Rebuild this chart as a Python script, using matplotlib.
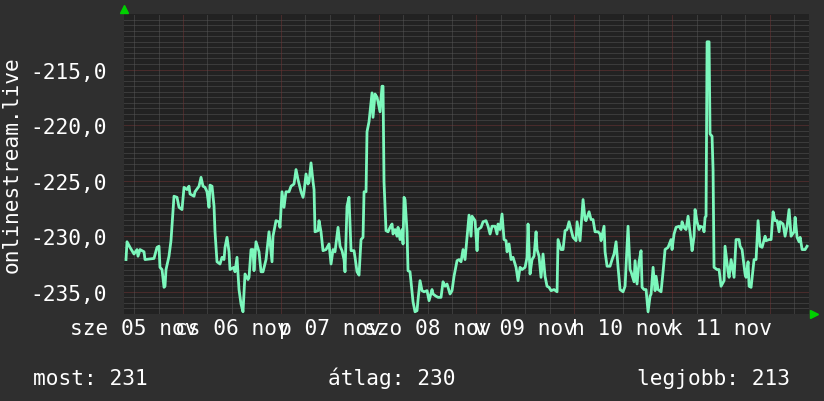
import matplotlib
matplotlib.use("Agg")
import matplotlib.pyplot as plt

# ------------------------------------
# Data (hours since 05 nov 00:00, value)
# ------------------------------------
hours = [
    10.01, 10.26, 10.99, 11.97, 12.71, 12.96, 13.45, 14.43, 14.67, 16.88,
    17.62, 18.11, 18.35, 18.85, 19.34, 19.58, 19.83, 20.56, 21.05, 21.79,
    22.53, 23.02, 23.75, 24.25, 24.98, 25.47, 25.72, 26.70, 26.94, 27.93,
    28.42, 28.91, 29.40, 29.89, 30.38, 30.62, 31.12, 31.61, 31.85, 32.34,
    33.08, 33.57, 34.06, 34.31, 34.80, 35.29, 35.53, 36.51, 36.76, 37.25,
    37.74, 38.23, 38.72, 39.21, 39.95, 40.20, 40.69, 41.18, 41.42, 41.91,
    42.65, 43.14, 43.63, 44.37, 45.10, 45.84, 46.08, 46.82, 47.56, 47.80,
    48.29, 48.78, 49.27, 50.01, 50.50, 51.24, 51.73, 52.22, 52.96, 53.45,
    53.69, 54.18, 54.67, 54.92, 55.41, 55.90, 56.15, 56.39, 57.13, 57.37,
    57.86, 58.35, 59.09, 59.83, 60.32, 60.81, 61.30, 62.04, 62.53, 63.02,
    63.51, 63.75, 64.24, 64.73, 65.23, 65.96, 66.21, 66.70, 67.19, 67.68,
    68.17, 68.42, 68.91, 69.15, 69.64, 70.38, 70.62, 71.12, 71.61, 71.85,
    72.34, 72.83, 73.08, 73.32, 73.81, 74.31, 74.80, 75.29, 75.53, 76.02,
    76.51, 76.76, 77.25, 77.74, 77.99, 78.23, 78.48, 78.97, 79.21, 79.70,
    80.20, 80.44, 80.93, 81.42, 81.67, 82.16, 82.65, 83.14, 83.88, 84.37,
    85.10, 85.35, 86.08, 86.58, 87.31, 87.80, 88.29, 88.78, 89.52, 90.01,
    90.50, 90.99, 91.24, 91.73, 92.22, 92.71, 93.20, 93.69, 94.18, 94.67,
    94.92, 95.66, 96.15, 96.39, 97.13, 97.62, 98.35, 98.85, 99.34, 99.83,
    100.56, 101.05, 101.30, 101.79, 102.28, 102.77, 103.26, 103.51, 104.00, 104.49,
    104.98, 105.72, 106.21, 106.70, 107.19, 107.93, 108.42, 108.66, 109.15, 109.64,
    110.13, 110.63, 110.87, 111.36, 111.85, 112.34, 112.83, 113.32, 113.82, 114.31,
    115.04, 115.78, 116.02, 116.76, 117.25, 117.74, 118.23, 118.72, 119.21, 119.70,
    120.44, 120.69, 121.42, 122.16, 122.65, 122.89, 123.63, 124.12, 124.61, 125.10,
    125.84, 126.33, 126.58, 127.31, 127.56, 128.05, 128.78, 129.28, 129.77, 130.26,
    130.75, 131.24, 131.98, 132.47, 133.20, 133.69, 133.94, 134.67, 134.92, 135.41,
    135.90, 136.39, 136.64, 137.13, 137.62, 138.11, 138.60, 138.85, 139.34, 139.83,
    140.07, 140.56, 141.30, 141.79, 142.28, 143.02, 143.75, 144.00, 144.49, 144.98,
    145.72, 146.21, 146.45, 146.94, 147.43, 147.93, 148.66, 148.91, 149.40, 149.64,
    150.13, 150.63, 150.87, 151.61, 151.85, 152.10, 152.34, 152.59, 153.08, 153.32,
    153.81, 154.06, 154.30, 155.04, 155.53, 156.02, 156.76, 157.00, 157.74, 157.99,
    158.48, 159.21, 159.70, 160.44, 160.69, 161.18, 161.91, 162.16, 162.65, 162.90,
    163.39, 164.12, 164.61, 165.10, 165.60, 166.09, 166.82, 167.07, 167.81, 168.30,
    168.79, 169.28, 169.77, 170.26, 170.51, 171.24, 171.73, 172.22, 172.71, 173.20,
    173.94, 174.19, 174.68, 175.17, 175.42, 175.91, 176.64, 177.13,
]
values = [
    -232.1, -230.5, -231.0, -231.6, -231.2, -231.8, -231.2, -231.4, -232.1, -232.0,
    -231.0, -230.9, -232.8, -233.0, -234.6, -234.5, -233.0, -231.8, -230.4, -226.4,
    -226.5, -227.4, -227.6, -225.6, -225.8, -225.5, -226.2, -226.4, -226.0, -225.5,
    -224.7, -225.5, -225.6, -226.0, -227.4, -225.4, -225.5, -227.3, -229.6, -232.3,
    -232.5, -231.9, -232.1, -231.0, -230.1, -231.4, -233.0, -232.8, -233.2, -231.9,
    -234.8, -236.1, -236.8, -233.4, -233.9, -233.7, -231.2, -231.2, -233.1, -230.5,
    -231.4, -233.2, -233.2, -232.1, -229.6, -232.3, -230.0, -228.6, -228.7, -229.2,
    -226.0, -227.4, -226.0, -226.0, -225.5, -225.3, -224.0, -224.9, -226.0, -226.5,
    -226.0, -224.4, -225.3, -225.1, -223.4, -225.1, -225.8, -229.6, -229.5, -228.6,
    -229.6, -231.3, -231.2, -230.7, -232.5, -231.2, -231.4, -229.2, -230.9, -231.3,
    -232.1, -233.2, -227.3, -226.5, -231.3, -231.3, -231.9, -233.2, -233.5, -230.3,
    -230.1, -226.0, -226.0, -220.6, -219.7, -217.1, -219.3, -217.2, -217.5, -217.9,
    -218.8, -216.5, -216.5, -225.1, -229.5, -229.6, -229.2, -228.9, -229.8, -229.4,
    -230.0, -229.2, -230.3, -229.4, -230.7, -226.5, -226.7, -229.6, -233.1, -233.2,
    -235.0, -235.9, -236.8, -236.7, -235.7, -234.0, -234.9, -235.0, -234.9, -235.8,
    -234.8, -235.2, -235.4, -235.5, -235.5, -234.1, -234.5, -234.3, -235.2, -234.9,
    -233.6, -232.7, -232.2, -232.1, -232.3, -231.2, -232.1, -230.1, -228.1, -230.0,
    -228.2, -228.6, -231.3, -229.4, -229.2, -228.7, -228.6, -229.1, -229.8, -229.1,
    -229.1, -229.8, -228.9, -229.4, -228.0, -230.3, -230.4, -231.4, -230.7, -232.1,
    -231.9, -232.8, -234.0, -232.8, -233.0, -232.8, -231.9, -228.9, -233.4, -232.1,
    -231.8, -229.6, -231.2, -231.8, -233.7, -231.6, -233.6, -234.5, -234.6, -234.9,
    -234.8, -235.0, -230.3, -231.2, -231.2, -229.5, -229.4, -228.7, -229.4, -230.1,
    -230.4, -228.7, -230.4, -226.7, -228.5, -228.6, -227.8, -228.5, -228.5, -229.6,
    -229.6, -229.8, -230.4, -229.1, -231.4, -232.7, -232.7, -232.1, -231.6, -230.5,
    -232.8, -234.8, -235.0, -234.5, -229.1, -233.0, -233.2, -234.1, -232.2, -234.3,
    -232.3, -231.3, -234.6, -234.8, -234.8, -236.8, -235.4, -235.2, -232.8, -234.9,
    -233.6, -234.8, -235.0, -233.2, -231.2, -231.0, -230.3, -231.2, -229.8, -229.2,
    -229.1, -229.4, -228.7, -229.2, -229.4, -228.2, -230.4, -231.3, -230.0, -227.6,
    -228.7, -229.4, -229.1, -229.2, -229.6, -228.3, -228.2, -212.5, -212.5, -220.8,
    -221.0, -224.0, -232.8, -233.0, -233.0, -234.5, -234.0, -230.9, -233.2, -233.7,
    -232.1, -233.7, -230.3, -230.3, -230.9, -231.2, -233.4, -233.7, -232.3, -234.5,
    -234.6, -232.1, -232.1, -228.6, -230.9, -231.0, -230.0, -230.4, -230.3, -230.3,
    -227.8, -228.6, -228.6, -229.6, -228.7, -228.9, -230.0, -229.1, -227.6, -230.0,
    -229.6, -228.3, -230.1, -230.5, -230.1, -231.2, -231.2, -230.9,
]

day_labels = ["sze 05 nov", "cs 06 nov", "p 07 nov", "szo 08 nov",
              "v 09 nov", "h 10 nov", "k 11 nov"]
label_hours = [12, 36, 60, 84, 108, 132, 156]
ytick_vals = [-235, -230, -225, -220, -215]

legend_texts = ["most: 231", "átlag: 230", "legjobb: 213"]
legend_x = [33, 328, 637]

# ------------------------------------
# Style
# ------------------------------------
BG = "#2f2f2f"
CANVAS = "#222222"
MINOR = "#555555"
MAJOR = "#703434"
LINE = "#7cf7bc"
FS = 15.2

plt.rcParams["font.family"] = ["DejaVu Sans Mono"]
plt.rcParams["lines.scale_dashes"] = False

W, H = 824, 402
fig = plt.figure(figsize=(W / 100, H / 100), dpi=100, facecolor=BG)
ax = fig.add_axes([124 / W, 1 - 315 / H, 685 / W, 300 / H])
ax.set_facecolor(CANVAS)

xmin, xmax = 9.52, 177.6
ymin, ymax = -237.0, -210.0
ax.set_xlim(xmin, xmax)
ax.set_ylim(ymin, ymax)

px = 0.72  # one pixel in points
dots = (0, (px, px))
# horizontal grid
for i in range(int(ymin * 2) + 1, int(ymax * 2)):
    y = i / 2
    col = MAJOR if y % 5 == 0 else MINOR
    ax.axhline(y, color=col, lw=px, ls=dots, zorder=1)
# vertical grid (every 6h, red at midnight)
h = 12
while h < xmax:
    col = MAJOR if h % 24 == 0 else MINOR
    ax.axvline(h, color=col, lw=px, ls=dots, zorder=1)
    h += 6

ax.plot(hours, values, color=LINE, lw=2.0, zorder=3)

for s in ax.spines.values():
    s.set_visible(False)

ax.set_yticks(ytick_vals)
ax.set_yticklabels([f"{v:.1f}".replace(".", ",") for v in ytick_vals])
ax.set_xticks(label_hours)
ax.set_xticklabels(day_labels)
ax.tick_params(axis="both", length=0, colors="white", labelsize=FS)
ax.tick_params(axis="y", pad=12)
ax.tick_params(axis="x", pad=3)

fig.text(12 / W, 1 - 165 / H, "onlinestream.live", rotation=90,
         ha="center", va="center", color="white", fontsize=FS)

for t, x in zip(legend_texts, legend_x):
    fig.text(x / W, 1 - 385 / H, t, ha="left", va="baseline",
             color="white", fontsize=FS)

# little green arrows at axis ends
fig.lines.append(plt.Line2D([124.5 / W], [1 - 10 / H], marker="^", ms=6,
                            color="#00d000", transform=fig.transFigure))
fig.lines.append(plt.Line2D([814 / W], [1 - 315 / H], marker=">", ms=6,
                            color="#00d000", transform=fig.transFigure))

fig.savefig("out.png", dpi=100, facecolor=BG)
